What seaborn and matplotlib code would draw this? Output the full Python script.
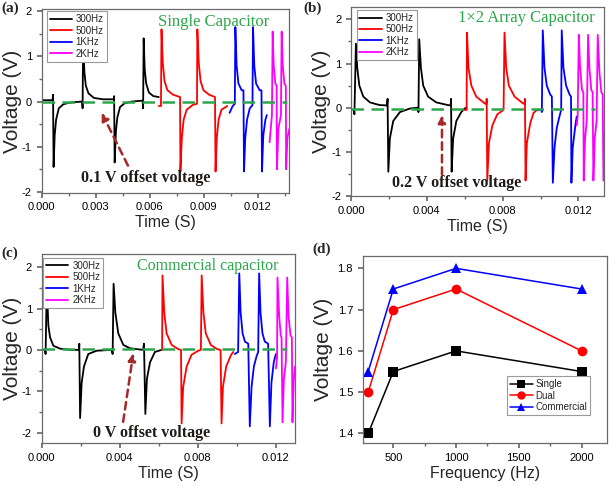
import numpy as np
import pandas as pd
import matplotlib
matplotlib.use("Agg")
import matplotlib.pyplot as plt
from matplotlib.ticker import MultipleLocator, FormatStrFormatter
import seaborn as sns

# ---------------- data (time in ms, voltage in V) ----------------
freqs = ["300Hz", "500Hz", "1KHz", "2KHz"]

# Panel (a) single capacitor
a_300_t = [0.00, 0.60, 0.63, 0.66, 0.72, 0.80, 0.95, 1.20, 1.60, 2.25, 2.27, 2.30, 2.37, 2.45, 2.60, 2.90, 3.40, 4.00, 4.02, 4.05, 4.12, 4.20, 4.35, 4.60, 5.00, 5.60, 5.63, 5.66, 5.72, 5.80, 5.95, 6.20, 6.50]
a_300_v = [0.03, 0.03, 0.15, -1.45, -0.75, -0.40, -0.15, -0.06, -0.02, 0.00, -0.15, 1.40, 0.65, 0.35, 0.18, 0.08, 0.05, 0.05, 0.12, -1.35, -0.65, -0.35, -0.12, -0.04, 0.00, 0.02, -0.15, 1.40, 0.70, 0.40, 0.20, 0.12, 0.10]
a_500_t = [6.50, 6.62, 6.65, 6.72, 6.82, 6.98, 7.30, 7.68, 7.70, 7.78, 7.88, 8.05, 8.40, 8.62, 8.64, 8.72, 8.82, 8.98, 9.30, 9.62, 9.65, 9.72, 9.82, 9.98, 10.30]
a_500_v = [-0.10, -0.10, 1.60, 0.85, 0.45, 0.25, 0.15, 0.10, -1.55, -0.80, -0.40, -0.18, -0.07, -0.05, 1.60, 0.85, 0.45, 0.25, 0.15, 0.10, -1.55, -0.80, -0.40, -0.18, -0.10]
a_1k_t = [10.43, 10.60, 10.72, 10.75, 10.82, 10.92, 11.10, 11.20, 11.23, 11.30, 11.40, 11.55, 11.70, 11.73, 11.80, 11.90, 12.10, 12.20, 12.23, 12.30, 12.42, 12.50]
a_1k_v = [-0.25, -0.10, -0.05, 1.65, 0.80, 0.40, 0.25, 0.25, -1.55, -0.80, -0.40, -0.15, -0.08, 1.65, 0.80, 0.40, 0.25, 0.25, -1.55, -0.75, -0.40, -0.30]
a_2k_t = [12.65, 12.78, 12.82, 12.88, 12.97, 13.04, 13.06, 13.14, 13.28, 13.32, 13.38, 13.47, 13.55, 13.57, 13.64, 13.75]
a_2k_v = [-0.90, -0.30, 1.55, 0.80, 0.40, 0.35, -1.50, -0.60, -0.30, 1.55, 0.80, 0.40, 0.35, -1.50, -0.80, -0.60]

# Panel (b) 1x2 array capacitor
b_300_t = [0.00, 0.15, 0.18, 0.26, 0.33, 0.44, 0.65, 1.00, 1.50, 1.90, 1.93, 1.97, 2.05, 2.23, 2.58, 3.10, 3.54, 3.56, 3.60, 3.69, 3.81, 4.07, 4.50, 5.10, 5.26, 5.28, 5.31, 5.39, 5.56, 5.82, 6.00, 6.09]
b_300_v = [-0.05, -0.05, -0.15, 1.45, 0.90, 0.50, 0.25, 0.12, 0.06, 0.05, 0.20, -1.45, -0.70, -0.30, -0.10, -0.02, 0.00, -0.10, 1.55, 0.90, 0.50, 0.25, 0.12, 0.06, 0.05, 0.20, -1.45, -0.70, -0.30, -0.10, -0.02, 0.00]
b_500_t = [6.00, 6.10, 6.12, 6.20, 6.35, 6.61, 7.05, 7.14, 7.16, 7.19, 7.28, 7.46, 7.72, 8.05, 8.10, 8.19, 8.33, 8.63, 9.07, 9.16, 9.18, 9.21, 9.28, 9.46, 9.63, 9.81]
b_500_v = [-0.05, -0.05, 1.70, 0.90, 0.50, 0.25, 0.10, 0.08, 0.20, -1.65, -0.80, -0.40, -0.15, -0.05, 1.70, 0.90, 0.50, 0.25, 0.10, 0.08, 0.20, -1.65, -0.80, -0.35, -0.12, -0.05]
b_1k_t = [9.81, 10.05, 10.07, 10.12, 10.21, 10.33, 10.51, 10.60, 10.65, 10.74, 10.86, 11.00, 11.09, 11.12, 11.21, 11.35, 11.53, 11.61, 11.63, 11.70, 11.84, 11.91]
b_1k_v = [-0.05, -0.05, -0.10, 1.75, 0.90, 0.50, 0.30, 0.25, -1.70, -0.90, -0.45, -0.20, -0.05, 1.75, 0.90, 0.50, 0.30, 0.25, -1.70, -0.90, -0.40, -0.20]
b_2k_t = [11.91, 11.96, 12.02, 12.09, 12.19, 12.26, 12.28, 12.35, 12.44, 12.51, 12.58, 12.68, 12.75, 12.79, 12.86, 12.96, 13.02, 13.11, 13.21, 13.28, 13.32, 13.40]
b_2k_v = [-0.40, -0.20, 1.65, 0.90, 0.40, 0.35, -1.65, -0.70, -0.30, 1.65, 0.90, 0.40, 0.35, -1.65, -0.70, -0.30, 1.65, 0.80, 0.35, 0.30, -1.65, -0.50]

# Panel (c) commercial capacitor
c_300_t = [0.00, 0.17, 0.20, 0.26, 0.34, 0.43, 0.60, 0.94, 1.50, 1.90, 1.93, 1.97, 2.05, 2.17, 2.39, 2.82, 3.60, 3.64, 3.69, 3.78, 3.93, 4.19, 4.53, 5.20, 5.25, 5.32, 5.40, 5.56, 5.81, 6.15]
c_300_v = [0.00, 0.00, -0.10, 1.60, 0.60, 0.30, 0.10, 0.03, 0.00, 0.00, 0.15, -1.65, -0.80, -0.40, -0.10, -0.02, 0.00, -0.10, 1.60, 0.90, 0.40, 0.12, 0.04, 0.00, 0.15, -1.55, -0.70, -0.30, -0.05, 0.00]
c_500_t = [6.15, 6.18, 6.20, 6.29, 6.41, 6.67, 7.00, 7.15, 7.18, 7.26, 7.44, 7.69, 8.03, 8.17, 8.21, 8.30, 8.42, 8.68, 9.00, 9.18, 9.23, 9.30, 9.47, 9.72, 9.83]
c_500_v = [0.00, 0.00, 1.80, 0.90, 0.40, 0.12, 0.02, 0.00, -1.78, -0.90, -0.40, -0.12, -0.02, 0.00, 1.80, 0.90, 0.40, 0.12, 0.02, 0.00, -1.78, -0.90, -0.40, -0.12, -0.05]
c_1k_t = [9.91, 10.08, 10.14, 10.21, 10.31, 10.43, 10.60, 10.68, 10.77, 10.89, 11.03, 11.11, 11.16, 11.23, 11.33, 11.45, 11.62, 11.71, 11.79, 11.91, 12.02]
c_1k_v = [-0.10, -0.05, 1.85, 0.90, 0.40, 0.20, 0.15, -1.85, -0.90, -0.40, -0.15, -0.05, 1.85, 0.90, 0.40, 0.20, 0.15, -1.85, -0.80, -0.30, -0.10]
c_2k_t = [12.02, 12.08, 12.10, 12.19, 12.27, 12.31, 12.36, 12.43, 12.53, 12.60, 12.67, 12.77, 12.84, 12.87, 12.94, 13.00]
c_2k_v = [-0.45, -0.20, 1.75, 0.80, 0.35, 0.30, -1.75, -0.70, -0.30, 1.75, 0.80, 0.35, 0.30, -1.75, -0.70, -0.40]

# offset reference lines (level in V, end time in ms)
offset_levels = [-0.02, -0.02, 0.02]
offset_ends = [13.6, 12.9, 12.6]

# Panel (d)
freq_hz = [300, 500, 1000, 2000]
single_v = [1.40, 1.55, 1.60, 1.55]
dual_v = [1.50, 1.70, 1.75, 1.60]
commercial_v = [1.55, 1.75, 1.80, 1.75]

# ---------------- style ----------------
sns.set_theme(style="ticks")
plt.rcParams["font.family"] = ["Liberation Sans", "DejaVu Sans"]
plt.rcParams.update({
    "axes.edgecolor": "#6a6a6a",
    "axes.linewidth": 0.9,
    "xtick.color": "#6a6a6a",
    "ytick.color": "#6a6a6a",
    "xtick.labelcolor": "black",
    "ytick.labelcolor": "black",
    "xtick.direction": "out",
    "ytick.direction": "out",
    "xtick.major.size": 3.5,
    "ytick.major.size": 3.5,
    "xtick.minor.size": 2,
    "ytick.minor.size": 2,
    "xtick.labelsize": 8,
    "ytick.labelsize": 8,
    "axes.labelsize": 11.5,
})

pal = {"300Hz": "#000000", "500Hz": "#ff0000", "1KHz": "#0000ff", "2KHz": "#ff00ff"}
green = "#2ca64a"
arrow_c = "#a52a2a"
dark = "#1f1a17"
YLAB = 15

W, H = 609, 486
fig = plt.figure(figsize=(W / 100, H / 100), dpi=100)

def rect(l, r, t, b):
    return [l / W, (H - b) / H, (r - l) / W, (b - t) / H]

ax_a = fig.add_axes(rect(41.7, 288.5, 9.5, 192.7))
ax_b = fig.add_axes(rect(351, 604, 7, 196))
ax_c = fig.add_axes(rect(41.7, 295, 254, 443.3))
ax_d = fig.add_axes(rect(362.7, 606.7, 256, 443.3))

def make_df(series):
    rows = []
    for name, (t, v) in zip(freqs, series):
        rows.append(pd.DataFrame({"t": np.array(t) / 1000.0, "v": v, "freq": name}))
    return pd.concat(rows, ignore_index=True)

panels = [
    (ax_a, [(a_300_t, a_300_v), (a_500_t, a_500_v), (a_1k_t, a_1k_v), (a_2k_t, a_2k_v)],
     (0, 0.0137), (-2.02, 2.04), 0.003, (0.02, 0.99)),
    (ax_b, [(b_300_t, b_300_v), (b_500_t, b_500_v), (b_1k_t, b_1k_v), (b_2k_t, b_2k_v)],
     (0, 0.01335), (-2.0, 2.28), 0.004, (0.022, 0.984)),
    (ax_c, [(c_300_t, c_300_v), (c_500_t, c_500_v), (c_1k_t, c_1k_v), (c_2k_t, c_2k_v)],
     (0, 0.0130), (-2.26, 2.32), 0.004, (0.006, 0.979)),
]

for i, (ax, series, xl, yl, xstep, lpos) in enumerate(panels):
    df = make_df(series)
    sns.lineplot(data=df, x="t", y="v", hue="freq", palette=pal, sort=False,
                 estimator=None, linewidth=1.3, ax=ax, zorder=2)
    ax.hlines(offset_levels[i], 0, offset_ends[i] / 1000.0, colors=green,
              linestyles=(0, (5, 3)), linewidth=1.8, zorder=3)
    ax.set_xlim(*xl)
    ax.set_ylim(*yl)
    ax.xaxis.set_major_locator(MultipleLocator(xstep))
    ax.xaxis.set_minor_locator(MultipleLocator(xstep / 2))
    ax.xaxis.set_major_formatter(FormatStrFormatter("%.3f"))
    ax.yaxis.set_major_locator(MultipleLocator(1))
    ax.yaxis.set_minor_locator(MultipleLocator(0.5))
    ax.yaxis.set_major_formatter(FormatStrFormatter("%d"))
    ax.set_xlabel("Time (S)", labelpad=2)
    ax.set_ylabel("Voltage (V)", labelpad=0, fontsize=YLAB)
    leg = ax.legend(loc="upper left", bbox_to_anchor=lpos, borderaxespad=0,
                    fontsize=7, handlelength=2.3, labelspacing=0.15,
                    handletextpad=0.4, borderpad=0.3, frameon=True,
                    fancybox=False, framealpha=1, edgecolor="#9a9a9a")
    leg.get_frame().set_linewidth(0.8)
    leg.set_zorder(5)

serif = ["Liberation Serif", "DejaVu Serif"]

# annotations (a)
ax_a.text(0.00952, 1.77, "Single Capacitor", color=green, fontsize=12,
          family=serif, ha="center", va="center")
ax_a.text(0.00579, -1.69, "0.1 V offset voltage", color=dark, fontsize=11.5,
          family=serif, fontweight="bold", ha="center", va="center")
ax_a.annotate("", xy=(0.00333, -0.25), xytext=(0.00479, -1.42),
              arrowprops=dict(arrowstyle="-|>", linestyle=(0, (3, 2)), color=arrow_c,
                              lw=1.8, mutation_scale=11, shrinkA=0, shrinkB=0))
# annotations (b)
ax_b.text(0.00925, 2.02, "1×2 Array Capacitor", color=green, fontsize=12,
          family=serif, ha="center", va="center")
ax_b.text(0.00556, -1.70, "0.2 V offset voltage", color=dark, fontsize=11.5,
          family=serif, fontweight="bold", ha="center", va="center")
ax_b.annotate("", xy=(0.0048, -0.17), xytext=(0.0048, -1.52),
              arrowprops=dict(arrowstyle="-|>", linestyle=(0, (3, 2)), color=arrow_c,
                              lw=1.8, mutation_scale=11, shrinkA=0, shrinkB=0))
# annotations (c)
ax_c.text(0.00854, 2.02, "Commercial capacitor", color=green, fontsize=11.5,
          family=serif, ha="center", va="center")
ax_c.text(0.00564, -2.0, "0 V offset voltage", color=dark, fontsize=11.5,
          family=serif, fontweight="bold", ha="center", va="center")
ax_c.annotate("", xy=(0.0047, -0.08), xytext=(0.00418, -1.74),
              arrowprops=dict(arrowstyle="-|>", linestyle=(0, (3, 2)), color=arrow_c,
                              lw=1.8, mutation_scale=11, shrinkA=0, shrinkB=0))

# ---------------- panel (d) ----------------
df_d = pd.DataFrame({
    "f": freq_hz * 3,
    "v": single_v + dual_v + commercial_v,
    "type": ["Single"] * 4 + ["Dual"] * 4 + ["Commercial"] * 4,
})
sns.lineplot(data=df_d, x="f", y="v", hue="type", style="type",
             palette={"Single": "#000000", "Dual": "#ff0000", "Commercial": "#0000ff"},
             markers={"Single": "s", "Dual": "o", "Commercial": "^"},
             dashes=False, markersize=7, markeredgewidth=0, linewidth=1.1,
             sort=False, ax=ax_d)
ax_d.set_xlim(256, 2200)
ax_d.set_ylim(1.376, 1.83)
ax_d.xaxis.set_major_locator(MultipleLocator(500))
ax_d.xaxis.set_minor_locator(MultipleLocator(250))
ax_d.yaxis.set_major_locator(MultipleLocator(0.1))
ax_d.yaxis.set_major_formatter(FormatStrFormatter("%.1f"))
ax_d.set_xlabel("Frequency (Hz)", labelpad=2)
ax_d.set_ylabel("Voltage (V)", labelpad=3, fontsize=YLAB)
leg = ax_d.legend(loc="lower right", bbox_to_anchor=(0.932, 0.151), borderaxespad=0,
                  fontsize=7, handlelength=2.3, labelspacing=0.15,
                  handletextpad=0.3, borderpad=0.3, frameon=True,
                  fancybox=False, framealpha=1, edgecolor="#9a9a9a")
leg.get_frame().set_linewidth(0.8)
for h in leg.legend_handles:
    h.set_markersize(6)

# panel letters
for x, y, s in [(1, 2, "(a)"), (303, 2, "(b)"), (1, 247, "(c)"), (312, 243, "(d)")]:
    fig.text(x / W, 1 - y / H, s, fontsize=11, family=serif, fontweight="bold",
             ha="left", va="top")

fig.savefig("out.png", dpi=100)
